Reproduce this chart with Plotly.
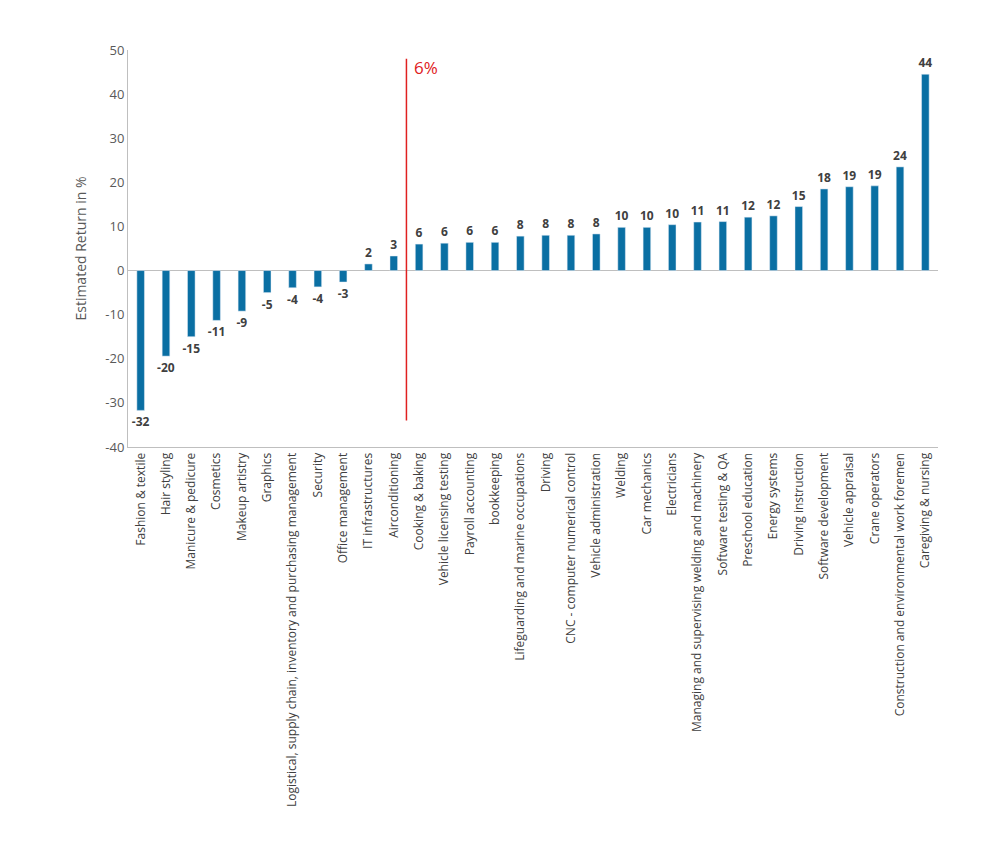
import plotly.graph_objects as go

categories = ["Fashion & textile","Hair styling","Manicure & pedicure","Cosmetics","Makeup artistry","Graphics",
 "Logistical, supply chain, inventory and purchasing management","Security","Office management","IT infrastructures",
 "Airconditioning","Cooking & baking","Vehicle licensing testing","Payroll accounting","bookkeeping",
 "Lifeguarding and marine occupations","Driving","CNC - computer numerical control","Vehicle administration","Welding",
 "Car mechanics","Electricians","Managing and supervising welding and machinery","Software testing & QA",
 "Preschool education","Energy systems","Driving instruction","Software development","Vehicle appraisal",
 "Crane operators","Construction and environmental work foremen","Caregiving & nursing"]
values = [-31.7,-19.4,-15,-11.3,-9.2,-5,-3.9,-3.7,-2.6,1.5,3.3,6,6.2,6.4,6.4,7.8,8,8,8.3,9.8,9.8,10.4,11,11.1,12.1,12.4,14.5,18.5,19,19.2,23.5,44.5]
labels = ["-32","-20","-15","-11","-9","-5","-4","-4","-3","2","3","6","6","6","6","8","8","8","8","10","10","10","11","11","12","12","15","18","19","19","24","44"]
yticks = [-40,-30,-20,-10,0,10,20,30,40,50]
yticktext = ["-40","-30","-20","-10","0","10","20","30","40","50"]

fig = go.Figure(go.Bar(x=categories, y=values, text=labels, textposition="outside",
    marker_color="#0a6fa3", width=0.3, cliponaxis=False,
    textfont=dict(family="Open Sans", size=12, color="#404040", weight="bold")))
fig.add_shape(type="line", x0=10.5, x1=10.5, y0=-34, y1=48, xref="x", yref="y", line=dict(color="#e02020", width=1.5))
fig.add_annotation(x=10.5, y=46, text="6%", showarrow=False, xanchor="left", xshift=6,
    font=dict(family="Open Sans", size=17, color="#e02020"))
fig.update_layout(width=1000, height=864, plot_bgcolor="white", paper_bgcolor="white",
    margin=dict(l=120, r=70, t=42, b=425), showlegend=False,
    uniformtext=dict(minsize=12, mode="show"),
    font=dict(family="Open Sans", size=12, color="#404040"), bargap=0.7)
fig.update_yaxes(range=[-40,50], tickvals=yticks, ticktext=yticktext, showgrid=False, zeroline=True,
    zerolinecolor="#bfbfbf", zerolinewidth=1,
    showline=True, linecolor="#bfbfbf", title=dict(text="Estimated Return in %", font=dict(size=14, color="#595959")),
    tickfont=dict(size=13, color="#595959"))
fig.update_xaxes(showline=True, linecolor="#bfbfbf", tickangle=-90, showgrid=False,
    tickfont=dict(size=12, color="#404040"))
fig.write_html("out.html")
